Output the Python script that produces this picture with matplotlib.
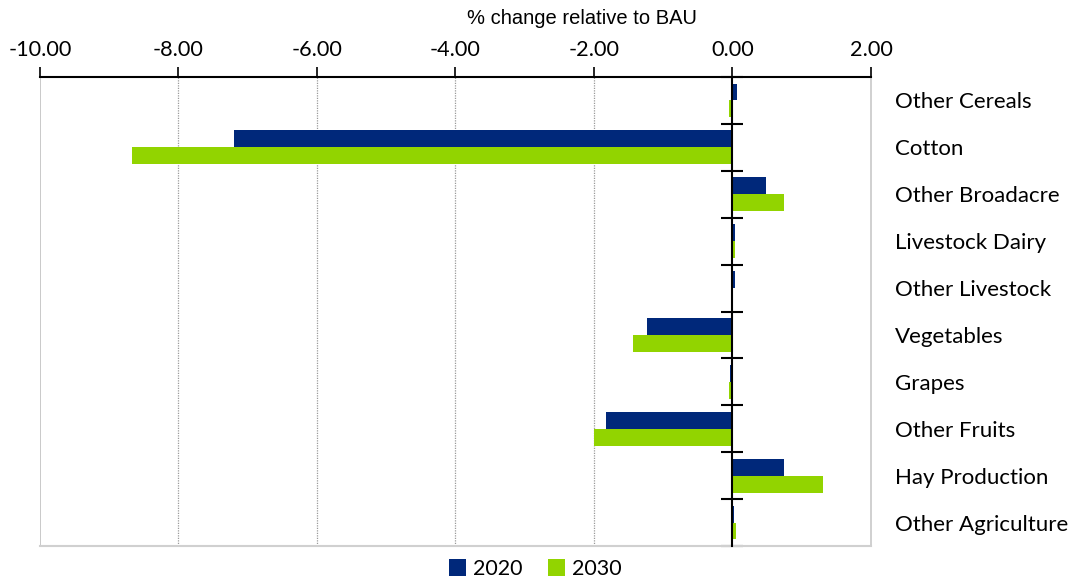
import matplotlib
matplotlib.use("Agg")
import matplotlib.pyplot as plt
import numpy as np
from matplotlib.ticker import FixedLocator

categories = ["Other Cereals", "Cotton", "Other Broadacre", "Livestock Dairy",
              "Other Livestock", "Vegetables", "Grapes", "Other Fruits",
              "Hay Production", "Other Agriculture"]
values_2020 = [0.06, -7.20, 0.49, 0.04, 0.04, -1.23, -0.04, -1.82, 0.75, 0.02]
values_2030 = [-0.05, -8.67, 0.74, 0.03, -0.02, -1.44, -0.05, -2.00, 1.30, 0.05]
x_ticks = [-10, -8, -6, -4, -2, 0, 2]

navy = "#00287A"
green = "#92D400"

fig = plt.figure(figsize=(10.83, 5.81), dpi=100)
ax = fig.add_axes([40 / 1083, 1 - 546 / 581, (871 - 40) / 1083, (546 - 77) / 581])

n = len(categories)
pos = np.arange(n)
h = 0.36
ax.barh(pos - h / 2, values_2020, height=h, color=navy, label="2020", zorder=3)
ax.barh(pos + h / 2, values_2030, height=h, color=green, label="2030", zorder=3)

ax.set_xlim(-10, 2)
ax.set_ylim(n - 0.5, -0.5)

# x axis along the top
ax.xaxis.tick_top()
ax.xaxis.set_label_position("top")
ax.set_xticks(x_ticks)
ax.set_xticklabels([f"{t:.2f}" for t in x_ticks], fontsize=15.6, fontfamily="Lato")
ax.tick_params(axis="x", direction="out", length=7, width=1.2, pad=5, color="black")
ax.spines["top"].set_linewidth(1.5)
ax.spines["top"].set_color("black")

# vertical gridlines
for t in x_ticks[1:-1]:
    if t != 0:
        ax.axvline(t, color="#9a9a9a", linestyle=(0, (1, 1)), linewidth=0.9, zorder=1)
ax.axvline(-10, color="#c0c0c0", linewidth=1.2, zorder=1)

# plot area border
ax.spines["right"].set_color("#c8c8c8")
ax.spines["right"].set_linewidth(1.2)
ax.spines["bottom"].set_color("#d0d0d0")
ax.spines["bottom"].set_linewidth(1.5)

# category axis at zero with labels on the right
ax.spines["left"].set_position(("data", 0))
ax.spines["left"].set_linewidth(1.5)
ax.spines["left"].set_zorder(4)
ax.set_yticks(pos)
ax.set_yticklabels(categories, fontsize=16, fontfamily="Lato")
ax.tick_params(axis="y", which="major", length=0, labelleft=False, labelright=True,
               left=False, right=False, pad=17)
ax.yaxis.set_minor_locator(FixedLocator(np.arange(-0.5, n, 1.0)))
ax.tick_params(axis="y", which="minor", direction="inout", length=16, width=1.5,
               left=True, right=False, color="black")

fig.text(582 / 1083, 1 - 18 / 581, "% change relative to BAU", ha="center", va="center",
         fontsize=14.5, fontfamily="Liberation Sans")

leg = fig.legend(loc="center", bbox_to_anchor=(535 / 1083, 1 - 569 / 581), ncol=2,
                 frameon=False, prop={"family": "Lato", "size": 15.5},
                 handlelength=0.8, handleheight=0.8, handletextpad=0.3, columnspacing=1.2)

fig.savefig("out.png", dpi=100)
